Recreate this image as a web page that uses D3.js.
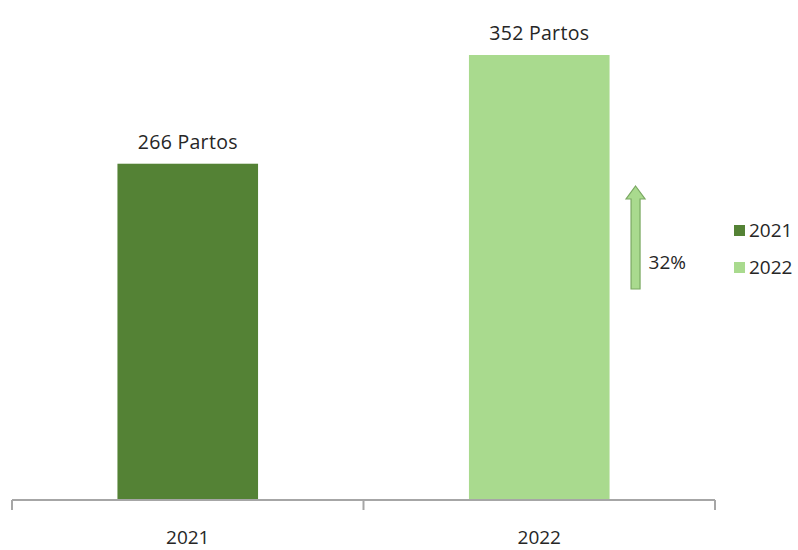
<!DOCTYPE html>
<html>
<head>
<meta charset="utf-8">
<script src="https://cdn.jsdelivr.net/npm/d3@7"></script>
<style>
  html, body { margin: 0; padding: 0; background: #ffffff; }
  svg text { font-family: "Open Sans", "Noto Sans", sans-serif; fill: #262626; }
</style>
</head>
<body>
<svg id="chart" width="798" height="550"></svg>
<script>
// Births per year
const years = ["2021", "2022"];
const births = [266, 352];
const barColors = ["#548235", "#a9da8e"];
const valueSuffix = " Partos";
const growthLabel = "32%";

const width = 798, height = 550;
const margin = { top: 55, right: 84, bottom: 50, left: 12 };
const plotRight = 715;
const baseline = 500;

const svg = d3.select("#chart");

const x = d3.scaleBand()
  .domain(years)
  .range([margin.left, plotRight])
  .paddingInner(0.6)
  .paddingOuter(0.3);

const y = d3.scaleLinear()
  .domain([0, 352])
  .range([baseline, 55]);

// Bars
svg.append("g")
  .selectAll("rect")
  .data(years)
  .join("rect")
  .attr("x", d => x(d))
  .attr("y", (d, i) => y(births[i]))
  .attr("width", x.bandwidth())
  .attr("height", (d, i) => baseline - y(births[i]))
  .attr("fill", (d, i) => barColors[i]);

// Value labels above bars
svg.append("g")
  .selectAll("text")
  .data(years)
  .join("text")
  .attr("x", d => x(d) + x.bandwidth() / 2)
  .attr("y", (d, i) => y(births[i]) - 15)
  .attr("text-anchor", "middle")
  .style("font-size", "19.5px")
  .style("letter-spacing", "0.3px")
  .text((d, i) => births[i] + valueSuffix);

// Category axis with ticks at category boundaries
const axisG = svg.append("g");
axisG.append("line")
  .attr("x1", margin.left).attr("x2", plotRight)
  .attr("y1", baseline).attr("y2", baseline)
  .attr("stroke", "#a6a6a6").attr("stroke-width", 2);

const boundaries = [margin.left, ...years.slice(1).map(d => x(d) - x.step() * x.paddingInner() / 2), plotRight];
axisG.selectAll("line.tick")
  .data(boundaries)
  .join("line")
  .attr("class", "tick")
  .attr("x1", d => d).attr("x2", d => d)
  .attr("y1", baseline).attr("y2", baseline + 10)
  .attr("stroke", "#a6a6a6").attr("stroke-width", 2);

axisG.selectAll("text")
  .data(years)
  .join("text")
  .attr("x", d => x(d) + x.bandwidth() / 2)
  .attr("y", 544)
  .attr("text-anchor", "middle")
  .style("font-size", "19px")
  .text(d => d);

// Growth arrow between the two years
const ax = x("2022") + x.bandwidth() + 26;
const arrowTop = 186, arrowBottom = 289, headH = 13, shaftW = 9, headW = 19;
const arrowPath = d3.path();
arrowPath.moveTo(ax, arrowTop);
arrowPath.lineTo(ax + headW / 2, arrowTop + headH);
arrowPath.lineTo(ax + shaftW / 2, arrowTop + headH);
arrowPath.lineTo(ax + shaftW / 2, arrowBottom);
arrowPath.lineTo(ax - shaftW / 2, arrowBottom);
arrowPath.lineTo(ax - shaftW / 2, arrowTop + headH);
arrowPath.lineTo(ax - headW / 2, arrowTop + headH);
arrowPath.closePath();
svg.append("path")
  .attr("d", arrowPath.toString())
  .attr("fill", "#a9da8e")
  .attr("stroke", "#7aa862")
  .attr("stroke-width", 1.2);

svg.append("text")
  .attr("x", ax + 13)
  .attr("y", 269)
  .style("font-size", "19px")
  .text(growthLabel);

// Legend
const legend = svg.append("g").selectAll("g")
  .data(years)
  .join("g")
  .attr("transform", (d, i) => `translate(734, ${225 + i * 37})`);
legend.append("rect")
  .attr("width", 11).attr("height", 11)
  .attr("fill", (d, i) => barColors[i]);
legend.append("text")
  .attr("x", 15)
  .attr("y", 12)
  .style("font-size", "19px")
  .text(d => d);
</script>
</body>
</html>
